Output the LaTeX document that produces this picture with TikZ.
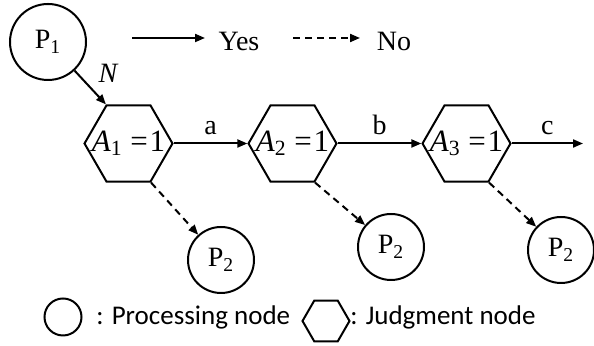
\documentclass[tikz,border=0pt]{standalone}
\usepackage{fontspec}
\setmainfont{Liberation Serif}
\newfontfamily\legendfont{Carlito}
\usetikzlibrary{backgrounds}
\usetikzlibrary{shapes.geometric}
\usetikzlibrary{arrows.meta,positioning}
\pgfdeclarelayer{edgelayer}
\pgfdeclarelayer{nodelayer}
\pgfsetlayers{background,edgelayer,nodelayer,main}
\tikzstyle{none}=[inner sep=0mm]
\tikzstyle{pn}=[draw=black,line width=1pt,shape=circle,inner sep=0pt,minimum size=33pt,font=\fontsize{14}{16}\selectfont]
\tikzstyle{jn}=[draw=black,line width=1pt,shape=regular polygon,regular polygon sides=6,inner sep=0pt,minimum size=44pt]
\tikzstyle{eq}=[inner sep=0pt,font=\fontsize{15.5}{18}\selectfont]
\tikzstyle{lbl}=[inner sep=0pt,font=\fontsize{14}{16}\selectfont]
\tikzstyle{keytext}=[inner sep=0pt,anchor=west,font=\legendfont\fontsize{13.5}{15}\selectfont]
\tikzstyle{yesedge}=[line width=1pt,-{Triangle[length=5pt,width=4pt]}]
\tikzstyle{noedge}=[yesedge,dash pattern=on 3.5pt off 2.5pt]
\newcommand{\aeq}[1]{\textit{A}\textsubscript{#1}\hspace{0.25em}=\hspace{0.06em}1}

\begin{document}
\begin{tikzpicture}[x=0.5pt,y=0.5pt]
	\useasboundingbox (0, 0) rectangle (594, 346);
	\begin{pgfonlayer}{nodelayer}
		\node [style=pn, minimum size=38pt] (p1) at (48, 304) {P\textsubscript{1}};
		\node [style=lbl, font=\itshape\fontsize{14}{16}\selectfont] (n) at (108, 273) {N};
		\coordinate (ys) at (132, 308);
		\coordinate (ye) at (205, 308);
		\node [style=lbl] (yes) at (239, 305) {Yes};
		\coordinate (ns) at (293, 308);
		\coordinate (ne) at (360, 308);
		\node [style=lbl] (no) at (394, 305) {No};
		\node [style=jn, label={[eq]center:\aeq{1}}] (a1) at (128.5, 202.5) {};
		\node [style=jn, label={[eq]center:\aeq{2}}] (a2) at (292.5, 202.5) {};
		\node [style=jn, label={[eq]center:\aeq{3}}] (a3) at (466.5, 202.5) {};
		\coordinate (out) at (583, 202.5);
		\node [style=pn] (q1) at (221, 86) {P\textsubscript{2}};
		\node [style=pn] (q2) at (391, 99) {P\textsubscript{2}};
		\node [style=pn] (q3) at (561, 96) {P\textsubscript{2}};
		% legend
		\node [style=pn, minimum size=18.5pt] (kp) at (63, 29) {};
		\node [style=keytext] (kpt) at (96, 29) {: Processing node};
		\node [style=jn, minimum size=23.5pt] (kj) at (326, 25) {};
		\node [style=keytext] (kjt) at (350, 29) {: Judgment node};
	\end{pgfonlayer}
	\begin{pgfonlayer}{edgelayer}
		\draw [style=yesedge] (ys) to (ye);
		\draw [style=noedge] (ns) to (ne);
		\draw [style=yesedge] (p1) to (a1.120);
		\draw [style=yesedge] (a1.east) to node [style=lbl, above=4pt] {a} (a2.west);
		\draw [style=yesedge] (a2.east) to node [style=lbl, above=4pt] {b} (a3.west);
		\draw [style=yesedge] (a3.east) to node [style=lbl, above=4pt] {c} (out);
		\draw [style=noedge] (a1.-60) to (q1);
		\draw [style=noedge] (a2.-60) to (q2);
		\draw [style=noedge] (a3.-60) to (q3);
	\end{pgfonlayer}
\end{tikzpicture}
\end{document}
